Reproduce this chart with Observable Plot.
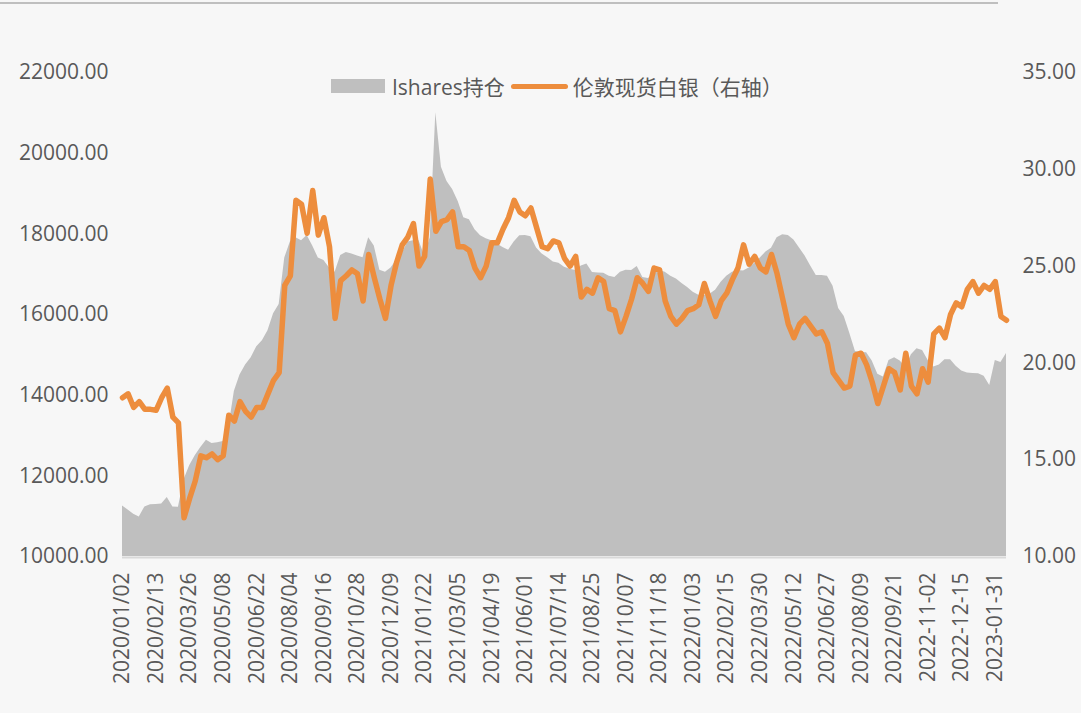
<!DOCTYPE html>
<html><head><meta charset="utf-8">
<script src="https://cdn.jsdelivr.net/npm/d3@7"></script>
<script src="https://cdn.jsdelivr.net/npm/@observablehq/plot@0.6"></script>
<style>
body{margin:0;background:#f7f7f7;}
#wrap{position:relative;width:1081px;height:713px;overflow:hidden;background:#f7f7f7;font-family:"Open Sans","Noto Sans CJK SC",sans-serif;}
#topline{position:absolute;left:0;top:2px;width:998px;height:2px;background:#bfbfbf;}
#legend{position:absolute;top:72px;left:331px;height:28px;display:flex;align-items:center;font-size:21px;color:#595959;white-space:nowrap;z-index:2;}
#legend .sw{width:54px;height:14px;background:#bfbfbf;margin-right:7px;}
#legend .ln{width:57px;height:5px;border-radius:3px;background:#ed8d3d;margin:0 5px 0 6px;}
#chart{position:absolute;left:0;top:0;}
</style></head>
<body>
<div id="wrap">
  <div id="topline"></div>
  <div id="chart"></div>
  <div id="legend"><div class="sw"></div><span>Ishares持仓</span><div class="ln"></div><span>伦敦现货白银（右轴）</span></div>
</div>
<script>
// trading-day index step between samples
const step = 5;
// Ishares holdings (left axis), sampled every 5 trading days from 2020/01/02
const ishares = [11250,11150,11050,10980,11230,11280,11290,11300,11460,11230,
 11220,11900,12250,12500,12700,12880,12800,12820,12850,13200,
 14100,14500,14750,14930,15200,15350,15600,16020,16250,17400,
 17800,17900,17830,17960,17700,17400,17340,17150,17050,17460,
 17540,17500,17450,17410,17900,17700,17100,17050,17150,17350,
 17510,17800,17830,17830,17450,17900,21000,19650,19300,19100,
 18800,18400,18350,18100,17950,17880,17830,17750,17660,17590,
 17800,17950,17960,17930,17650,17500,17410,17300,17270,17170,
 17120,17090,17200,17250,17040,17030,17020,16950,16920,17050,
 17100,17090,17190,16920,16890,17000,17090,17050,16950,16880,
 16770,16670,16550,16480,16470,16500,16600,16800,16950,17050,
 17090,17080,17150,17270,17400,17550,17640,17900,17980,17960,
 17850,17650,17450,17200,16970,16970,16950,16700,16150,15950,
 15530,15080,15060,15050,14850,14520,14450,14860,14930,14850,
 14690,15000,15150,15110,14860,14700,14750,14880,14880,14720,
 14600,14550,14540,14530,14470,14240,14860,14810,15030];
// London spot silver (right axis)
const silver = [18.2,18.4,17.7,18.0,17.6,17.6,17.55,18.2,18.7,17.2,
 16.9,12.0,13.0,13.9,15.2,15.1,15.3,15.0,15.2,17.3,
 17.0,18.0,17.5,17.2,17.7,17.7,18.4,19.1,19.5,24.0,
 24.5,28.4,28.2,26.7,28.9,26.6,27.5,26.0,22.3,24.25,
 24.5,24.8,24.6,23.2,25.6,24.4,23.3,22.3,24.0,25.2,
 26.1,26.5,27.2,25.0,25.5,29.5,26.8,27.3,27.4,27.8,
 26.0,26.0,25.8,24.9,24.4,25.0,26.2,26.2,26.9,27.5,
 28.4,27.8,27.6,28.0,27.0,26.0,25.9,26.3,26.2,25.4,
 25.0,25.5,23.4,23.8,23.6,24.4,24.2,22.8,22.7,21.6,
 22.4,23.3,24.4,24.1,23.7,24.9,24.8,23.2,22.4,22.0,
 22.3,22.7,22.8,23.0,24.1,23.2,22.4,23.2,23.6,24.3,
 24.9,26.1,25.1,25.5,24.9,24.7,25.6,24.6,23.3,22.0,
 21.3,22.0,22.3,21.9,21.5,21.6,21.0,19.5,19.1,18.7,
 18.8,20.4,20.5,19.9,19.0,17.9,18.8,19.7,19.5,18.6,
 20.5,18.8,18.4,19.7,19.0,21.5,21.8,21.3,22.5,23.1,
 22.9,23.8,24.2,23.6,24.0,23.8,24.2,22.4,22.2];
// x tick labels, every 30 trading days
const xLabels = ["2020/01/02","2020/02/13","2020/03/26","2020/05/08","2020/06/22","2020/08/04","2020/09/16","2020/10/28","2020/12/09",
 "2021/01/22","2021/03/05","2021/04/19","2021/06/01","2021/07/14","2021/08/25","2021/10/07","2021/11/18",
 "2022/01/03","2022/02/15","2022/03/30","2022/05/12","2022/06/27","2022/08/09","2022/09/21","2022-11-02","2022-12-15","2023-01-31"];
const labelStep = 30;
const leftTicks = [10000,12000,14000,16000,18000,20000,22000];
const rightTicks = [10,15,20,25,30,35];
const leftDomain = [10000,22000];
const rightDomain = [10,35];

const toLeft = v => leftDomain[0] + (v - rightDomain[0]) * (leftDomain[1]-leftDomain[0])/(rightDomain[1]-rightDomain[0]);
const fromLeft = v => rightDomain[0] + (v - leftDomain[0]) * (rightDomain[1]-rightDomain[0])/(leftDomain[1]-leftDomain[0]);
const data = ishares.map((g, i) => ({i: i*step, g, s: silver[i]}));
const xTicks = xLabels.map((_, i) => i*labelStep);
const f2 = d3.format(".2f");

const plot = Plot.plot({
  width: 1081, height: 713,
  marginLeft: 122, marginRight: 75, marginTop: 72, marginBottom: 157,
  style: {background: "transparent", fontFamily: '"Open Sans","Noto Sans CJK SC",sans-serif', fontSize: "21px", color: "#595959"},
  x: {domain: [0, (ishares.length-1)*step], axis: null},
  y: {domain: leftDomain, axis: null},
  marks: [
    Plot.areaY(data, {x: "i", y1: leftDomain[0], y2: "g", fill: "#bfbfbf"}),
    Plot.ruleY([leftDomain[0]], {stroke: "#d9d9d9", strokeWidth: 2, dy: 1}),
    Plot.lineY(data, {x: "i", y: d => toLeft(d.s), stroke: "#ed8d3d", strokeWidth: 5.5, strokeLinejoin: "round", strokeLinecap: "round"}),
    Plot.axisY({anchor: "left", label: null, ticks: leftTicks, tickFormat: f2, tickSize: 0, tickPadding: 14, fill: "#595959", fontSize: 21}),
    Plot.axisY({anchor: "right", label: null, ticks: rightTicks.map(toLeft), tickFormat: v => f2(fromLeft(v)), tickSize: 0, tickPadding: 16, fill: "#595959", fontSize: 21}),
    Plot.axisX({label: null, ticks: xTicks, tickFormat: d => xLabels[Math.round(d/labelStep)], tickRotate: -90, tickSize: 0, tickPadding: 16, fill: "#595959", fontSize: 21})
  ]
});
document.getElementById("chart").appendChild(plot);
</script>
</body></html>
